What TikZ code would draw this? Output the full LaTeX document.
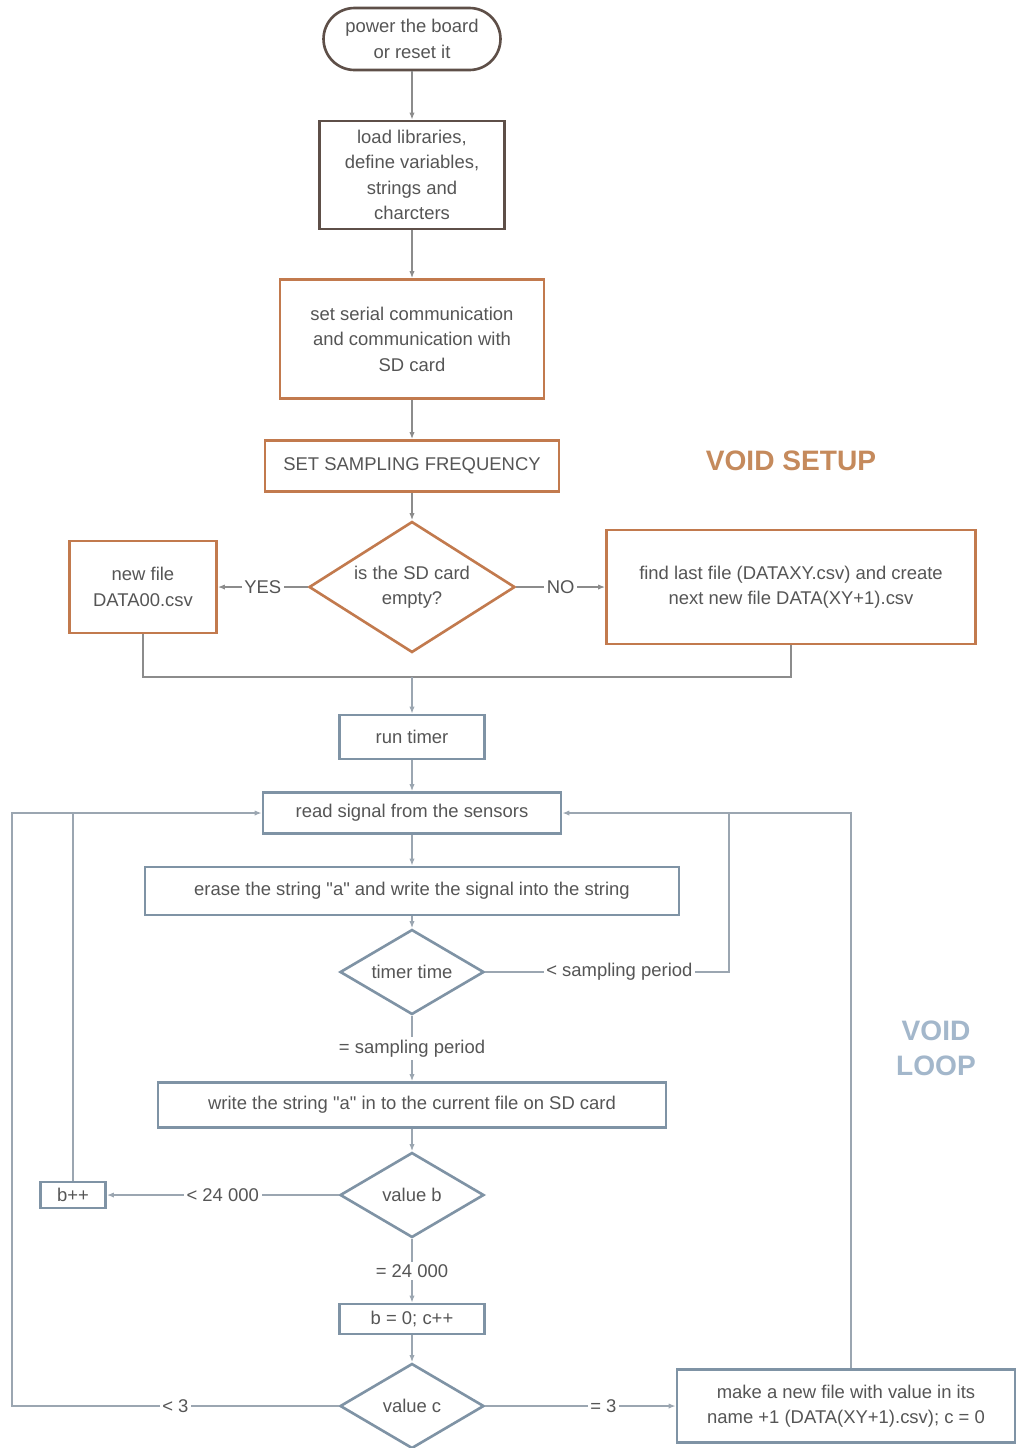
\documentclass[tikz,border=0pt]{standalone}
\usepackage{fontspec}
\setmainfont{Liberation Sans}[Ligatures=TeXOff]
\usetikzlibrary{arrows.meta,shapes.geometric}
\definecolor{brn}{HTML}{5E4F48}
\definecolor{org}{HTML}{C27A4E}
\definecolor{blg}{HTML}{7F93A5}
\definecolor{lin}{HTML}{8C8C8C}
\definecolor{lnb}{HTML}{9BA6B1}
\definecolor{txt}{HTML}{555555}
\definecolor{vset}{HTML}{C58A5C}
\definecolor{vlp}{HTML}{A3B7CB}

\begin{document}
\begin{tikzpicture}[x=0.02cm,y=-0.02cm,
  every node/.style={font=\fontsize{10.5}{14.5}\selectfont,text=txt,align=center},
  box/.style={draw,rectangle,line width=1.5pt,inner sep=2pt},
  dia/.style={draw,diamond,line width=1.5pt,inner sep=0pt},
  lbl/.style={fill=white,inner sep=1.5pt},
  ln/.style={draw=lin,line width=0.8pt},
  lnl/.style={draw=lnb,line width=0.8pt},
  arr/.style={ln,-{Latex[length=4pt,width=3pt]}},
  arrl/.style={lnl,-{Latex[length=4pt,width=3pt]}}]
  \useasboundingbox (0,0) rectangle (1019,1448);

  % void setup
  \node[box,draw=brn,rounded corners=0.62cm,minimum width=3.54cm,minimum height=1.24cm] (start) at (412,39) {power the board\\or reset it};
  \node[box,draw=brn,minimum width=3.7cm,minimum height=2.16cm] (load) at (412,175) {load libraries,\\define variables,\\strings and\\charcters};
  \node[box,draw=org,minimum width=5.28cm,minimum height=2.38cm] (serial) at (412,339) {set serial communication\\and communication with\\SD card};
  \node[box,draw=org,minimum width=5.88cm,minimum height=1.02cm] (freq) at (412,466) {SET SAMPLING FREQUENCY};
  \node[dia,draw=org,shape aspect=1.57,minimum width=4.12cm,minimum height=2.62cm] (sdq) at (412,587) {is the SD card\\empty?};
  \node[box,draw=org,minimum width=2.94cm,minimum height=1.84cm] (newf) at (143,587) {new file\\DATA00.csv};
  \node[box,draw=org,minimum width=7.38cm,minimum height=2.28cm] (findf) at (791,587) {find last file (DATAXY.csv) and create\\next new file DATA(XY+1).csv};
  \node[font=\bfseries\fontsize{16}{19}\selectfont,text=vset] (vsetup) at (791,461) {VOID SETUP};
  \coordinate (mrg) at (412,677);

  \draw[arr] (start) -- (load);
  \draw[arr] (load) -- (serial);
  \draw[arr] (serial) -- (freq);
  \draw[arr] (freq) -- (sdq);
  \draw[arr] (sdq) -- node[lbl]{YES} (newf);
  \draw[arr] (sdq) -- node[lbl]{NO} (findf);
  \draw[ln] (newf) |- (mrg) -| (findf);

  % void loop
  \node[box,draw=blg,minimum width=2.9cm,minimum height=0.88cm] (timer) at (412,737) {run timer};
  \node[box,draw=blg,minimum width=5.96cm,minimum height=0.82cm] (read) at (412,813) {read signal from the sensors};
  \node[box,draw=blg,minimum width=10.68cm,minimum height=0.96cm] (erase) at (412,891) {erase the string "a" and write the signal into the string};
  \node[dia,draw=blg,shape aspect=1.7,minimum width=2.88cm,minimum height=1.7cm] (tq) at (412,972) {timer time};
  \node[box,draw=blg,minimum width=10.16cm,minimum height=0.9cm] (write) at (412,1105) {write the string "a" in to the current file on SD card};
  \node[dia,draw=blg,shape aspect=1.7,minimum width=2.88cm,minimum height=1.7cm] (bq) at (412,1195) {value b};
  \node[box,draw=blg,minimum width=1.3cm,minimum height=0.52cm,inner sep=1pt] (binc) at (73,1195) {b++};
  \node[box,draw=blg,minimum width=2.9cm,minimum height=0.6cm,inner sep=1pt] (reset) at (412,1319) {b = 0; c++};
  \node[dia,draw=blg,shape aspect=1.7,minimum width=2.88cm,minimum height=1.7cm] (cq) at (412,1406) {value c};
  \node[box,draw=blg,minimum width=6.76cm,minimum height=1.46cm] (mkf) at (846,1406) {make a new file with value in its\\name +1 (DATA(XY+1).csv); c = 0};
  \node[font=\bfseries\fontsize{16}{20}\selectfont,text=vlp] (vloop) at (936,1048) {VOID\\LOOP};
  \coordinate (jt) at (729,813);
  \coordinate (jm) at (851,813);
  \coordinate (jb) at (73,813);
  \coordinate (jc) at (12,813);

  \draw[arrl] (mrg) -- (timer);
  \draw[arrl] (timer) -- (read);
  \draw[arrl] (read) -- (erase);
  \draw[arrl] (erase) -- (tq);
  \draw[arrl] (tq) -- node[lbl]{= sampling period} (write);
  \draw[lnl] (tq) -- node[lbl,pos=0.55]{< sampling period} (tq -| jt) -- (jt);
  \draw[arrl] (write) -- (bq);
  \draw[arrl] (bq) -- node[lbl]{< 24 000} (binc);
  \draw[lnl] (binc) -- (jb);
  \draw[arrl] (bq) -- node[lbl]{= 24 000} (reset);
  \draw[arrl] (reset) -- (cq);
  \draw[arrl] (cq) -- node[lbl,pos=0.62]{= 3} (mkf);
  \draw[arrl] (mkf.north -| jm) -- (jm) -- (read);
  \draw[arrl] (cq) -- node[lbl]{< 3} (cq -| jc) -- (jc) -- (read);
\end{tikzpicture}
\end{document}
